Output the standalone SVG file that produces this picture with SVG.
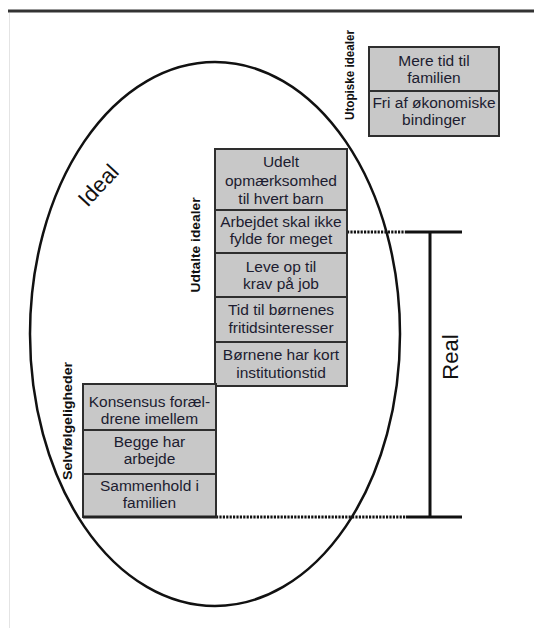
<svg xmlns="http://www.w3.org/2000/svg" width="534" height="628" viewBox="0 0 534 628">
<style>
.box{fill:#c8c8c8;stroke:#2e2e2e;stroke-width:2}
.bt{font-family:"Liberation Sans",Arial,sans-serif;font-size:15.5px;fill:#1c1c30;text-anchor:middle}
.vl{font-family:"Liberation Sans",Arial,sans-serif;font-size:12.5px;font-weight:bold;fill:#111;text-anchor:middle}
.big{font-family:"Liberation Sans",Arial,sans-serif;font-size:22px;fill:#111;text-anchor:middle}
.solid{stroke:#111;stroke-width:3;fill:none}
.dot{stroke:#111;stroke-width:3;stroke-dasharray:2.2 1.2;fill:none}
</style>
<rect width="534" height="628" fill="#fff"/>
<line x1="9.5" y1="13" x2="9.5" y2="628" stroke="#e4e4e4" stroke-width="1"/>
<line x1="8" y1="11" x2="534" y2="11" stroke="#333" stroke-width="3"/>

<g id="ellipse">
<ellipse cx="215" cy="334" rx="185" ry="272" fill="none" stroke="#111" stroke-width="2.5"/>
<text class="big" transform="translate(98,185) rotate(-47)" x="0" y="8">Ideal</text>
</g>

<g id="connectors">
<line class="dot" x1="347" y1="232" x2="406" y2="232"/>
<line class="solid" x1="406" y1="232" x2="462" y2="232"/>
<line class="dot" x1="216" y1="517" x2="406" y2="517"/>
<line class="solid" x1="406" y1="517" x2="462" y2="517"/>
<line class="solid" x1="430" y1="232" x2="430" y2="517"/>
</g>

<g id="real-label">
<text class="big" transform="translate(458,357) rotate(-90)" x="0" y="0">Real</text>
</g>

<g id="utopiske-label">
<text class="vl" transform="translate(354,75) rotate(-90)" textLength="90" lengthAdjust="spacingAndGlyphs">Utopiske idealer</text>
</g>
<g id="udtalte-label">
<text class="vl" transform="translate(200,245) rotate(-90)" textLength="95" lengthAdjust="spacingAndGlyphs">Udtalte idealer</text>
</g>
<g id="selv-label">
<text class="vl" transform="translate(72,421) rotate(-90)" textLength="118" lengthAdjust="spacingAndGlyphs">Selvfølgeligheder</text>
</g>

<g id="u1">
<rect class="box" x="369" y="47" width="130" height="44"/>
<text class="bt" x="434" y="66">Mere tid til</text>
<text class="bt" x="434" y="83">familien</text>
</g>
<g id="u2">
<rect class="box" x="369" y="91" width="130" height="45"/>
<text class="bt" x="434" y="108">Fri af økonomiske</text>
<text class="bt" x="434" y="125">bindinger</text>
</g>

<g id="m1">
<rect class="box" x="215" y="149" width="132" height="61"/>
<text class="bt" x="281" y="167">Udelt</text>
<text class="bt" x="281" y="186">opmærksomhed</text>
<text class="bt" x="281" y="204">til hvert barn</text>
</g>
<g id="m2">
<rect class="box" x="215" y="210" width="132" height="43"/>
<text class="bt" x="281" y="227">Arbejdet skal ikke</text>
<text class="bt" x="281" y="244">fylde for meget</text>
</g>
<g id="m3">
<rect class="box" x="215" y="253" width="132" height="44"/>
<text class="bt" x="281" y="272">Leve op til</text>
<text class="bt" x="281" y="289">krav på job</text>
</g>
<g id="m4">
<rect class="box" x="215" y="297" width="132" height="45"/>
<text class="bt" x="281" y="315">Tid til børnenes</text>
<text class="bt" x="281" y="333">fritidsinteresser</text>
</g>
<g id="m5">
<rect class="box" x="215" y="342" width="132" height="44"/>
<text class="bt" x="281" y="360">Børnene har kort</text>
<text class="bt" x="281" y="378">institutionstid</text>
</g>

<g id="l1">
<rect class="box" x="83" y="384" width="133" height="46"/>
<text class="bt" x="149.5" y="407">Konsensus foræl-</text>
<text class="bt" x="149.5" y="424">drene imellem</text>
</g>
<g id="l2">
<rect class="box" x="83" y="430" width="133" height="44"/>
<text class="bt" x="149.5" y="447">Begge har</text>
<text class="bt" x="149.5" y="464">arbejde</text>
</g>
<g id="l3">
<rect class="box" x="83" y="474" width="133" height="43"/>
<text class="bt" x="149.5" y="491">Sammenhold i</text>
<text class="bt" x="149.5" y="508">familien</text>
<line x1="83" y1="517" x2="216" y2="517" stroke="#222" stroke-width="3"/>
</g>
</svg>
